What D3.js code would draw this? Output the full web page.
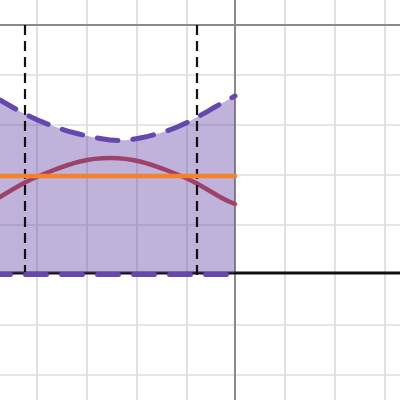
<!DOCTYPE html>
<html><head><meta charset="utf-8">
<script src="https://cdn.jsdelivr.net/npm/d3@7"></script>
<style>html,body{margin:0;padding:0;background:#fff;}svg{display:block;}</style>
</head><body>
<svg id="chart" width="400" height="400"></svg>
<script>
// grid line positions (graph units)
const xGrid = [-3.96, -2.96, -1.96, -0.96, 1, 2, 3];
const yGrid = [-1, -2, -3, -4, -6, -7];
// upper dashed boundary curve
const upperX = [-4.8, -4.7, -4.2, -3.7, -3.2, -2.7, -2.3, -1.9, -1.4, -0.9, -0.4, 0];
const upperY = [-1.44, -1.5, -1.78, -2.0, -2.16, -2.27, -2.31, -2.26, -2.13, -1.92, -1.64, -1.42];
// red curve
const redX = [-4.8, -4.7, -4.2, -3.7, -3.1, -2.5, -1.9, -1.3, -0.8, -0.3, 0];
const redY = [-3.5, -3.44, -3.15, -2.93, -2.73, -2.66, -2.73, -2.93, -3.15, -3.44, -3.58];
// horizontal lines
const orangeY = -3.02;
const blackY = -4.96;
const lowerY = -4.99;
const regionX = [-4.8, 0];
// vertical dashed markers
const markerX = [-4.2, -0.76];
const markerY = [0, -5];

const svg = d3.select("#chart");
const x = d3.scaleLinear().domain([-4.7, 3.3]).range([0, 400]);
const y = d3.scaleLinear().domain([0.5, -7.5]).range([0, 400]);

// grid
svg.append("g").selectAll("line").data(xGrid).join("line")
  .attr("x1", d => x(d)).attr("x2", d => x(d)).attr("y1", 0).attr("y2", 400)
  .attr("stroke", "#dcdcdc").attr("stroke-width", 1.7);
svg.append("g").selectAll("line").data(yGrid).join("line")
  .attr("y1", d => y(d)).attr("y2", d => y(d)).attr("x1", 0).attr("x2", 400)
  .attr("stroke", "#dcdcdc").attr("stroke-width", 1.7);
// axes
svg.append("line").attr("x1", x(0)).attr("x2", x(0)).attr("y1", 0).attr("y2", 400)
  .attr("stroke", "#8a8a8a").attr("stroke-width", 2);
svg.append("line").attr("y1", y(0)).attr("y2", y(0)).attr("x1", 0).attr("x2", 400)
  .attr("stroke", "#8a8a8a").attr("stroke-width", 2);

const upper = upperX.map((v, i) => [v, upperY[i]]);
const red = redX.map((v, i) => [v, redY[i]]);

// red curve (beneath fill)
svg.append("path").datum(red)
  .attr("d", d3.line().x(d => x(d[0])).y(d => y(d[1])).curve(d3.curveNatural))
  .attr("fill", "none").attr("stroke", "#c74440").attr("stroke-width", 4.5)
  .attr("stroke-linecap", "round");

// black horizontal line
svg.append("line").attr("x1", 0).attr("x2", 400).attr("y1", y(blackY)).attr("y2", y(blackY))
  .attr("stroke", "#111").attr("stroke-width", 2.8);

// fill region
svg.append("path").datum(upper)
  .attr("d", d3.area().x(d => x(d[0])).y0(y(blackY)).y1(d => y(d[1])).curve(d3.curveNatural))
  .attr("fill", "#6042a6").attr("fill-opacity", 0.4);

// vertical dashed markers
svg.append("g").selectAll("line").data(markerX).join("line")
  .attr("x1", d => x(d)).attr("x2", d => x(d))
  .attr("y1", y(markerY[0])).attr("y2", y(markerY[1]))
  .attr("stroke", "#111").attr("stroke-width", 2.2).attr("stroke-dasharray", "10,6");

// orange line
svg.append("line").attr("x1", x(regionX[0])).attr("x2", x(0)).attr("y1", y(orangeY)).attr("y2", y(orangeY))
  .attr("stroke", "#f5822a").attr("stroke-width", 4.5).attr("stroke-linecap", "round");

// upper dashed boundary
svg.append("path").datum(upper.filter(d => d[0] >= -4.7))
  .attr("d", d3.line().x(d => x(d[0])).y(d => y(d[1])).curve(d3.curveNatural))
  .attr("fill", "none").attr("stroke", "#6547ad").attr("stroke-width", 5)
  .attr("stroke-linecap", "round").attr("stroke-dasharray", "21,15").attr("stroke-dashoffset", 3);

// lower dashed boundary
svg.append("line").attr("x1", x(-4.7)).attr("x2", x(0)).attr("y1", y(lowerY)).attr("y2", y(lowerY))
  .attr("stroke", "#6547ad").attr("stroke-width", 5)
  .attr("stroke-linecap", "round").attr("stroke-dasharray", "21,15").attr("stroke-dashoffset", 10.5);
</script>
</body></html>
